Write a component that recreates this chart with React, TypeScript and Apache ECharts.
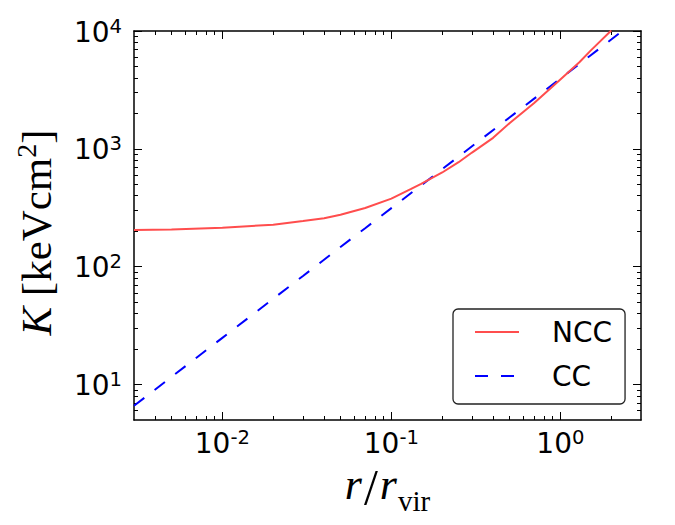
import React, { useEffect, useRef } from "react";
import * as echarts from "echarts";

// Entropy profiles K(r) for non-cool-core (NCC) and cool-core (CC) clusters
const rNCC = [0.003, 0.005, 0.01, 0.02, 0.03, 0.04, 0.05, 0.07, 0.1, 0.13, 0.15, 0.2, 0.25, 0.3, 0.4, 0.5, 0.7, 1.0, 1.3, 1.5, 2.0];
const kNCC = [205, 207, 214, 227, 244, 258, 276, 315, 378, 455, 505, 630, 770, 930, 1240, 1650, 2450, 3880, 5450, 6750, 10100];

const rCC = [0.003, 0.005, 0.01, 0.02, 0.03, 0.05, 0.07, 0.1, 0.15, 0.2, 0.3, 0.5, 0.7, 1.0, 1.5, 2.0, 2.25];
const kCC = [6.6, 11.6, 24.9, 53.4, 83.4, 147, 212, 314, 490, 673, 1051, 1843, 2668, 3950, 6170, 8465, 9650];

// Axis ranges and tick positions (log scales)
const xRange = [0.003, 3];
const yRange = [5, 10000];
const xMajor = [0.01, 0.1, 1];
const xMinor = [
  0.004, 0.005, 0.006, 0.007, 0.008, 0.009,
  0.02, 0.03, 0.04, 0.05, 0.06, 0.07, 0.08, 0.09,
  0.2, 0.3, 0.4, 0.5, 0.6, 0.7, 0.8, 0.9,
  2,
];
const yMajor = [10, 100, 1000, 10000];
const yMinor = [
  6, 7, 8, 9,
  20, 30, 40, 50, 60, 70, 80, 90,
  200, 300, 400, 500, 600, 700, 800, 900,
  2000, 3000, 4000, 5000, 6000, 7000, 8000, 9000,
];

const sans = "DejaVu Sans";
const serif = "Liberation Serif";

const tickRich = {
  b: { fontFamily: sans, color: "#000", fontSize: 28, lineHeight: 30, verticalAlign: "bottom" },
  s: { fontFamily: sans, color: "#000", fontSize: 19.6, lineHeight: 19, verticalAlign: "top" },
};
const powerLabel = (v: number) => `{b|10}{s|${Math.round(Math.log10(v))}}`;

function logAxis(
  position: string,
  range: number[],
  ticks: number[],
  tickLen: number,
  showLine: boolean,
  showLabels: boolean,
  extra: any = {}
) {
  return {
    type: "log",
    logBase: 10,
    position,
    min: range[0],
    max: range[1],
    axisLine: { show: showLine, lineStyle: { color: "#000", width: 1.5 } },
    axisTick: {
      show: true,
      inside: true,
      length: tickLen,
      customValues: ticks,
      lineStyle: { color: "#000", width: 1 },
    },
    axisLabel: showLabels
      ? {
          show: true,
          customValues: ticks,
          formatter: powerLabel,
          rich: tickRich,
          showMinLabel: true,
          showMaxLabel: true,
        }
      : { show: false },
    splitLine: { show: false },
    minorTick: { show: false },
    ...extra,
  };
}

export default function App() {
  const ref = useRef<HTMLDivElement>(null);

  useEffect(() => {
    if (!ref.current) return;
    const chart = echarts.init(ref.current, undefined, { renderer: "svg" });

    const option = {
      animation: false,
      backgroundColor: "#fff",
      grid: { left: 134, right: 34, top: 31, bottom: 105, containLabel: false },
      xAxis: [
        logAxis("bottom", xRange, xMajor, 8, true, true, {
          name: "{i|r}{n|/}{i|r}{sub|vir}",
          nameLocation: "middle",
          nameGap: 42,
          nameTextStyle: {
            rich: {
              i: { fontFamily: serif, fontStyle: "italic", fontSize: 44, color: "#000", lineHeight: 46, verticalAlign: "top" },
              n: { fontFamily: serif, fontSize: 50, color: "#000", lineHeight: 46, verticalAlign: "top", padding: [0, 2, 0, 2] },
              sub: { fontFamily: serif, fontSize: 29, color: "#000", lineHeight: 26, padding: [24, 0, 0, 1], verticalAlign: "top" },
            },
          },
          axisLabel: {
            show: true,
            customValues: xMajor,
            formatter: powerLabel,
            rich: tickRich,
            margin: 7,
            showMinLabel: true,
            showMaxLabel: true,
          },
        }),
        logAxis("bottom", xRange, xMinor, 4, false, false),
        logAxis("top", xRange, xMajor, 8, true, false),
        logAxis("top", xRange, xMinor, 4, false, false),
      ],
      yAxis: [
        logAxis("left", yRange, yMajor, 8, true, true, {
          name: "{i|K}{n| [keVcm}{s|2}{n|]}{gap|}",
          nameLocation: "middle",
          nameRotate: 90,
          nameGap: 76,
          nameTextStyle: {
            rich: {
              i: { fontFamily: serif, fontStyle: "italic", fontSize: 43, color: "#000", lineHeight: 46, verticalAlign: "bottom" },
              n: { fontFamily: serif, fontSize: 43, color: "#000", lineHeight: 46, verticalAlign: "bottom" },
              s: { fontFamily: serif, fontSize: 28, color: "#000", lineHeight: 26, verticalAlign: "top" },
              gap: { width: 14, lineHeight: 46 },
            },
          },
          axisLabel: {
            show: true,
            customValues: yMajor,
            formatter: powerLabel,
            rich: tickRich,
            margin: 12,
            showMinLabel: true,
            showMaxLabel: true,
          },
        }),
        logAxis("left", yRange, yMinor, 4, false, false),
        logAxis("right", yRange, yMajor, 8, true, false),
        logAxis("right", yRange, yMinor, 4, false, false),
      ],
      legend: {
        orient: "vertical",
        left: 453,
        top: 309,
        padding: [8, 13, 13, 21],
        itemWidth: 44,
        itemHeight: 14,
        itemGap: 14,
        borderColor: "#222",
        borderWidth: 1.3,
        borderRadius: 5,
        backgroundColor: "#fff",
        itemStyle: { opacity: 0, borderWidth: 0 },
        textStyle: {
          fontFamily: sans,
          fontSize: 28,
          color: "#000",
          lineHeight: 30,
          padding: [0, 0, 0, 28],
        },
        data: ["NCC", "CC"],
      },
      series: [
        {
          name: "NCC",
          type: "line",
          xAxisIndex: 0,
          yAxisIndex: 0,
          data: rNCC.map((r, i) => [r, kNCC[i]]),
          symbol: "none",
          clip: true,
          lineStyle: { color: "#ff4d4d", width: 2 },
          itemStyle: { color: "#ff4d4d" },
          z: 3,
        },
        {
          name: "CC",
          type: "line",
          xAxisIndex: 0,
          yAxisIndex: 0,
          data: rCC.map((r, i) => [r, kCC[i]]),
          symbol: "none",
          clip: true,
          lineStyle: { color: "#0000ff", width: 2, type: [13, 13] },
          itemStyle: { color: "#0000ff" },
          z: 2,
        },
      ],
    };

    chart.setOption(option as any);
    return () => chart.dispose();
  }, []);

  return (
    <div
      ref={ref}
      style={{ position: "fixed", left: 0, top: 0, width: 675, height: 525, background: "#fff" }}
    />
  );
}
